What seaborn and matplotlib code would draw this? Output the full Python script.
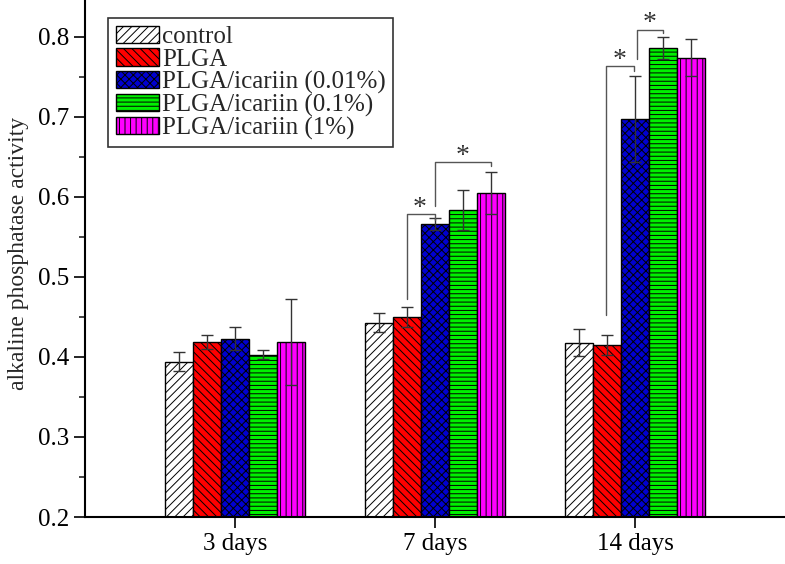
import matplotlib
matplotlib.use("Agg")
import matplotlib.pyplot as plt
import matplotlib.patches as mpatches
from matplotlib.ticker import MultipleLocator
import seaborn as sns
import pandas as pd

# data
days = ["3 days", "7 days", "14 days"]
groups = ["control", "PLGA", "PLGA/icariin (0.01%)", "PLGA/icariin (0.1%)", "PLGA/icariin (1%)"]
control = [0.394, 0.443, 0.418]
plga = [0.419, 0.450, 0.415]
ic001 = [0.423, 0.566, 0.697]
ic01 = [0.403, 0.583, 0.786]
ic1 = [0.419, 0.605, 0.774]
control_err = [0.012, 0.012, 0.017]
plga_err = [0.009, 0.012, 0.013]
ic001_err = [0.014, 0.007, 0.054]
ic01_err = [0.006, 0.025, 0.014]
ic1_err = [0.054, 0.026, 0.023]

colors = ["white", "#ff0000", "#0000d0", "#00f000", "#ff00ff"]
hatches = ["////", "\\\\\\\\", "xxxx", "----", "|||"]

# significance brackets: x0, x1, top, left bottom, right bottom, star x, star y
brackets = [
    (0.86, 1.00, 0.579, 0.4725, 0.571, 0.925, 0.585),
    (1.00, 1.28, 0.644, 0.589, 0.638, 1.14, 0.650),
    (1.855, 1.995, 0.763, 0.4525, 0.757, 1.925, 0.770),
    (2.01, 2.14, 0.808, 0.772, 0.805, 2.075, 0.817),
]

values = [control, plga, ic001, ic01, ic1]
errors = [control_err, plga_err, ic001_err, ic01_err, ic1_err]

rows = []
for g, v, e in zip(groups, values, errors):
    for d, vv, ee in zip(days, v, e):
        rows.append({"day": d, "group": g, "value": vv, "err": ee})
df = pd.DataFrame(rows)

sns.set_style("ticks")
plt.rcParams["font.family"] = ["Liberation Serif", "DejaVu Serif"]
plt.rcParams["hatch.linewidth"] = 0.7

fig = plt.figure(figsize=(7.85, 5.64), dpi=100)
ax = fig.add_axes([85 / 785, 47 / 564, 700 / 785, 517 / 564])

sns.barplot(data=df, x="day", y="value", hue="group", hue_order=groups,
            palette=colors, saturation=1, width=0.7, edgecolor="black", linewidth=1.0,
            errorbar=None, legend=False, ax=ax)

bar_conts = list(ax.containers)
for i, cont in enumerate(bar_conts):
    g = groups[i]
    sub = df[df["group"] == g]
    xs = []
    for bar in cont:
        bar.set_hatch(hatches[i])
        bar.set_edgecolor("black")
        xs.append(bar.get_x() + bar.get_width() / 2)
    ax.errorbar(xs, sub["value"], yerr=sub["err"], fmt="none",
                ecolor="#333333", elinewidth=1.0, capsize=4.5, capthick=1.0, zorder=5)

for x0, x1, top, lb, rb, sx, sy in brackets:
    ax.plot([x0, x0, x1, x1], [lb, top, top, rb], color="#555555", lw=1.0, zorder=6)
    ax.text(sx, sy, "*", ha="center", va="center", fontsize=20, color="#333333")

ax.set_ylim(0.2, 0.846)
ax.set_xlim(-0.75, 2.75)
ax.yaxis.set_major_locator(MultipleLocator(0.1))
ax.yaxis.set_minor_locator(MultipleLocator(0.05))
ax.tick_params(axis="both", which="major", direction="out", length=8, width=1.2, labelsize=18, colors="black")
ax.tick_params(axis="y", which="minor", direction="out", length=4.5, width=1.2)
ax.set_xlabel("")
ax.set_ylabel("alkaline phosphatase activity", fontsize=17)
ax.yaxis.set_label_coords(-0.08, 0.51)
for s in ["top", "right"]:
    ax.spines[s].set_visible(False)
for s in ["left", "bottom"]:
    ax.spines[s].set_linewidth(1.5)
    ax.spines[s].set_color("black")

handles = [mpatches.Patch(facecolor=c, edgecolor="black", hatch=h, label=g)
           for c, h, g in zip(colors, hatches, groups)]
leg = ax.legend(handles=handles, loc="upper left", bbox_to_anchor=(0.033, 0.965),
                fontsize=18, frameon=True, fancybox=False, edgecolor="black",
                handlelength=1.75, handleheight=0.7, handletextpad=0.1,
                labelspacing=0.0, borderpad=0.3, borderaxespad=0)
leg.get_frame().set_linewidth(1.2)

fig.savefig("out.png", dpi=100)
